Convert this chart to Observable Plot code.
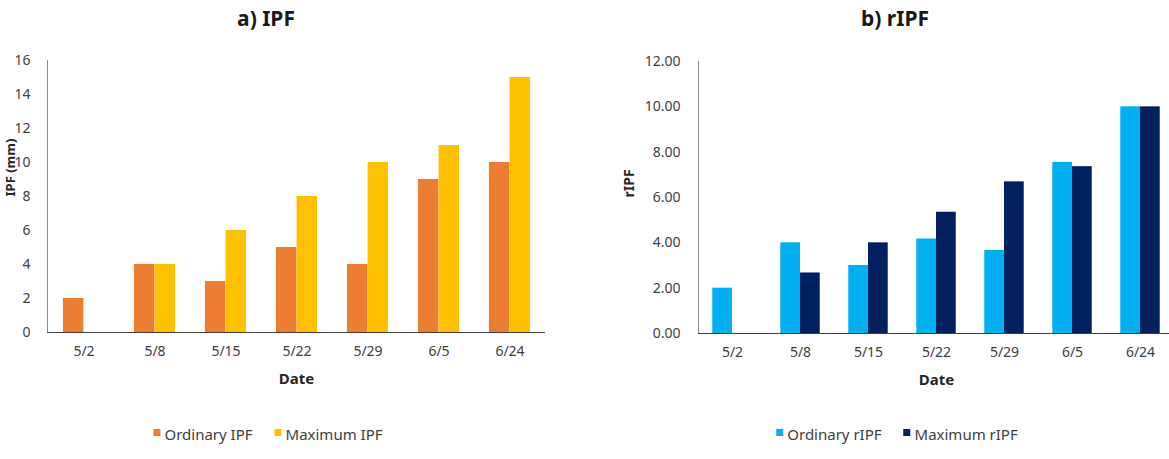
<!DOCTYPE html>
<html>
<head>
<meta charset="utf-8">
<script src="https://cdn.jsdelivr.net/npm/d3@7"></script>
<script src="https://cdn.jsdelivr.net/npm/@observablehq/plot@0.6"></script>
<style>
  html, body { margin: 0; padding: 0; background: #fff; overflow: hidden; }
  #root { position: relative; width: 1169px; height: 459px; overflow: hidden; font-family: "Noto Sans", sans-serif; }
  .title { position: absolute; top: 4px; font-family: "Noto Sans", sans-serif; font-weight: bold; font-size: 21px; color: #1a1a1a; transform: translateX(-50%); white-space: nowrap; }
  .chart { position: absolute; top: 40px; }
  .legend { position: absolute; top: 424px; transform: translateX(-50%); display: flex; gap: 22px; font-size: 15px; color: #404040; white-space: nowrap; }
  .legend span.item { display: flex; align-items: flex-start; }
  .legend i { display: inline-block; width: 7px; height: 7px; margin-top: 5px; margin-right: 4px; }
</style>
</head>
<body>
<div id="root"></div>
<script>
// ---- data ----
const dates = ["5/2", "5/8", "5/15", "5/22", "5/29", "6/5", "6/24"];
const ordinaryIPF = [2, 4, 3, 5, 4, 9, 10];
const maximumIPF = [null, 4, 6, 8, 10, 11, 15];
const ordinaryRIPF = [2.00, 4.00, 3.00, 4.17, 3.66, 7.55, 10.00];
const maximumRIPF = [null, 2.67, 4.00, 5.35, 6.69, 7.36, 10.00];
const ipfTicks = [0, 2, 4, 6, 8, 10, 12, 14, 16];
const ripfTicks = [0, 2, 4, 6, 8, 10, 12];
const ipfSeries = ["Ordinary IPF", "Maximum IPF"];
const ripfSeries = ["Ordinary rIPF", "Maximum rIPF"];
const ipfColors = ["#ED7D31", "#FFC000"];
const ripfColors = ["#00B0F0", "#002060"];

function rows(series, a, b) {
  const out = [];
  dates.forEach((d, i) => {
    if (a[i] != null) out.push({date: d, series: series[0], value: a[i]});
    if (b[i] != null) out.push({date: d, series: series[1], value: b[i]});
  });
  return out;
}

function makeChart(o) {
  const step = (o.width - o.marginLeft - o.marginRight) / dates.length;
  const outer = step * 0.21, bar = step * 0.29;
  const data = rows(o.series, o.a, o.b);
  return Plot.plot({
    width: o.width,
    height: o.height,
    marginLeft: o.marginLeft,
    marginRight: o.marginRight,
    marginTop: o.marginTop,
    marginBottom: o.marginBottom,
    style: {fontFamily: "'Noto Sans', sans-serif", fontSize: "14px", color: "#404040", background: "transparent", overflow: "visible"},
    x: {type: "band", domain: dates, padding: 0},
    y: {domain: [0, o.yMax]},
    color: {domain: o.series, range: o.colors},
    marks: [
      Plot.barY(data.filter(d => d.series === o.series[0]), {x: "date", y: "value", fill: "series", insetLeft: outer, insetRight: step - outer - bar}),
      Plot.barY(data.filter(d => d.series === o.series[1]), {x: "date", y: "value", fill: "series", insetLeft: outer + bar, insetRight: outer}),
      Plot.frame({anchor: "left", stroke: "#8c8c8c", strokeOpacity: 1}),
      Plot.ruleY([0], {stroke: "#404040", strokeWidth: 1.2}),
      Plot.axisY({ticks: o.ticks, tickSize: 0, tickPadding: o.yPad, tickFormat: o.fmt, label: null, fill: "#404040", fontSize: 14}),
      Plot.axisX({tickSize: 0, tickPadding: 14, label: null, fill: "#404040", fontSize: 14}),
      Plot.text(["Date"], {frameAnchor: "bottom", dy: 51, fontWeight: "bold", fontSize: 15, fill: "#262626"}),
      Plot.text([o.yLabel], {frameAnchor: "left", dx: o.labelDx, rotate: -90, fontWeight: "bold", fontSize: o.labelSize, fill: "#262626"})
    ]
  });
}

const root = document.getElementById("root");

function addTitle(text, cx) {
  const t = document.createElement("div");
  t.className = "title"; t.textContent = text; t.style.left = cx + "px";
  root.appendChild(t);
}
function addLegend(series, colors, cx) {
  const l = document.createElement("div");
  l.className = "legend"; l.style.left = cx + "px";
  series.forEach((s, i) => {
    const it = document.createElement("span"); it.className = "item";
    const sw = document.createElement("i"); sw.style.background = colors[i];
    it.appendChild(sw); it.appendChild(document.createTextNode(s));
    l.appendChild(it);
  });
  root.appendChild(l);
}

addTitle("a) IPF", 266);
addTitle("b) rIPF", 895);

const left = makeChart({
  width: 580, height: 362, marginLeft: 47, marginRight: 35, marginTop: 20, marginBottom: 70,
  yMax: 16, ticks: ipfTicks, fmt: d => String(d), yPad: 17,
  series: ipfSeries, colors: ipfColors, a: ordinaryIPF, b: maximumIPF,
  yLabel: "IPF (mm)", labelDx: -37, labelSize: 13
});
left.classList.add("chart"); left.style.left = "0px";
root.appendChild(left);

const right = makeChart({
  width: 590, height: 363, marginLeft: 108, marginRight: 6, marginTop: 21, marginBottom: 70,
  yMax: 12, ticks: ripfTicks, fmt: d3.format(".2f"), yPad: 18,
  series: ripfSeries, colors: ripfColors, a: ordinaryRIPF, b: maximumRIPF,
  yLabel: "rIPF", labelDx: -69, labelSize: 14
});
right.classList.add("chart"); right.style.left = "590px";
root.appendChild(right);

addLegend(ipfSeries, ipfColors, 268);
addLegend(ripfSeries, ripfColors, 897);
</script>
</body>
</html>
